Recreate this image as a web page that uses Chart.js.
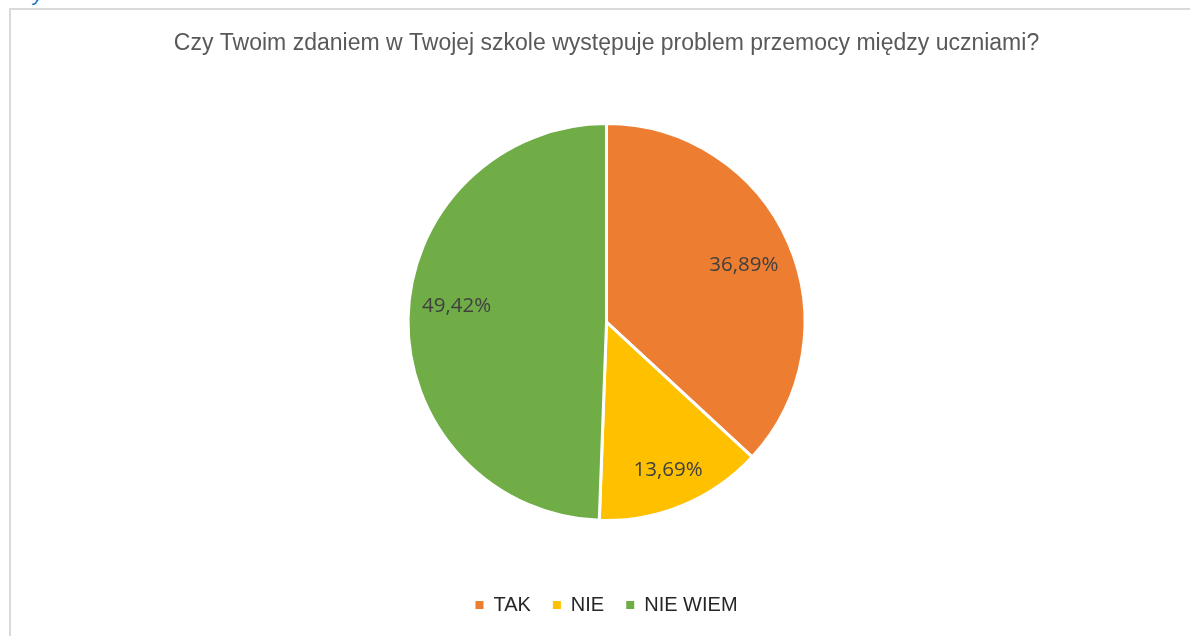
<!DOCTYPE html>
<html lang="pl">
<head>
<meta charset="utf-8">
<title>Przemoc między uczniami</title>
<script src="https://cdn.jsdelivr.net/npm/chart.js@4/dist/chart.umd.min.js"></script>
<style>
  html, body { margin: 0; padding: 0; background: #ffffff; overflow: hidden; }
  body { width: 1190px; height: 636px; position: relative; }
  #frame {
    position: absolute; left: 9px; top: 8px; width: 1300px; height: 700px;
    border-left: 2px solid #d9d9d9; border-top: 2px solid #d9d9d9; box-sizing: border-box;
  }
  #heading {
    position: absolute; left: 33px; top: -17px; margin: 0;
    font: italic 20px "Liberation Sans", sans-serif; color: #0070c0;
  }
  #wrap { position: absolute; left: 0; top: 0; width: 1190px; height: 636px; }
</style>
</head>
<body>
<div id="frame"></div>
<p id="heading">y</p>
<div id="wrap"><canvas id="chart"></canvas></div>
<script>
// Survey answers and their shares (%)
const categories = ['TAK', 'NIE', 'NIE WIEM'];
const shares = [36.89, 13.69, 49.42];
const sliceColors = ['#ED7D31', '#FFC000', '#70AD47'];
const chartTitle = 'Czy Twoim zdaniem w Twojej szkole występuje problem przemocy między uczniami?';

// Writes each share inside its slice, Polish decimal comma
const sliceLabels = {
  id: 'sliceLabels',
  afterDatasetsDraw(chart, args, opts) {
    const ctx = chart.ctx;
    const meta = chart.getDatasetMeta(0);
    ctx.save();
    ctx.font = opts.font;
    ctx.fillStyle = opts.color;
    ctx.textAlign = 'center';
    ctx.textBaseline = 'middle';
    meta.data.forEach((arc, i) => {
      const p = arc.getProps(['x', 'y', 'startAngle', 'endAngle', 'outerRadius'], true);
      const mid = (p.startAngle + p.endAngle) / 2 + (opts.nudge[i] || 0) * Math.PI / 180;
      const r = p.outerRadius * opts.radial[i];
      const v = chart.data.datasets[0].data[i];
      const text = v.toFixed(2).replace('.', ',') + '%';
      ctx.fillText(text, p.x + Math.cos(mid) * r, p.y + Math.sin(mid) * r);
    });
    ctx.restore();
  }
};

const defaultLegendLabels = Chart.overrides.pie.plugins.legend.labels.generateLabels;

new Chart(document.getElementById('chart'), {
  type: 'pie',
  data: {
    labels: categories,
    datasets: [{
      data: shares,
      backgroundColor: sliceColors,
      borderColor: '#ffffff',
      borderWidth: 3
    }]
  },
  options: {
    responsive: true,
    maintainAspectRatio: false,
    animation: false,
    layout: { padding: { left: 23, right: 0, top: 0, bottom: 11 } },
    plugins: {
      title: {
        display: true,
        text: chartTitle,
        color: '#595959',
        font: { family: '"Liberation Sans", sans-serif', size: 23, weight: 'normal', lineHeight: 1.2 },
        padding: { top: 30, bottom: 64.5 }
      },
      legend: {
        position: 'bottom',
        // empty legend title only reserves the gap between pie and legend row
        title: { display: true, text: '', padding: { top: 0, bottom: 0 },
                 font: { size: 42.5, lineHeight: 1.2 } },
        labels: {
          color: '#262626',
          font: { family: '"Liberation Sans", sans-serif', size: 20 },
          boxWidth: 8,
          boxHeight: 8,
          padding: 22,
          // solid squares without the white slice outline
          generateLabels(chart) {
            return defaultLegendLabels(chart).map(item => Object.assign(item, { lineWidth: 0 }));
          }
        }
      },
      tooltip: { enabled: false },
      sliceLabels: {
        font: '20.5px "Open Sans", sans-serif',
        color: '#404040',
        radial: [0.75, 0.81, 0.76],
        nudge: [1, 0, 5]
      }
    }
  },
  plugins: [sliceLabels]
});
</script>
</body>
</html>
